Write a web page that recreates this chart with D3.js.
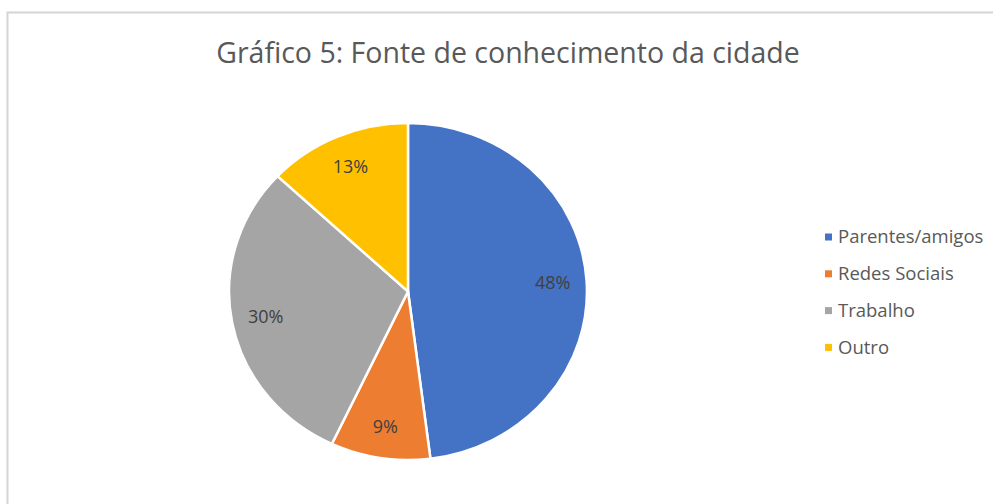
<!DOCTYPE html>
<html>
<head>
<meta charset="utf-8">
<script src="https://cdn.jsdelivr.net/npm/d3@7"></script>
<style>
  body { margin: 0; background: #fff; }
  svg { display: block; }
  text { font-family: "Open Sans", sans-serif; }
</style>
</head>
<body>
<script>
// chart data
var categories = ["Parentes/amigos", "Redes Sociais", "Trabalho", "Outro"];
var values = [48, 9, 30, 13];
var colors = ["#4472C4", "#ED7D31", "#A5A5A5", "#FFC000"];
var title = "Gráfico 5: Fonte de conhecimento da cidade";

var width = 993, height = 504;

var svg = d3.select("body").append("svg")
    .attr("width", width)
    .attr("height", height);

// chart frame
svg.append("rect")
    .attr("x", 7.5)
    .attr("y", 12.5)
    .attr("width", width + 20)
    .attr("height", height + 20)
    .attr("fill", "#fff")
    .attr("stroke", "#d4d4d4")
    .attr("stroke-width", 2);

svg.append("text")
    .attr("x", 508)
    .attr("y", 63)
    .attr("text-anchor", "middle")
    .style("font-size", "28.5px")
    .style("fill", "#595959")
    .text(title);

// pie (slightly wider than tall, like the source picture)
var cx = 408, cy = 291.5, r = 168.5, sx = 1.062;

var pie = d3.pie().sort(null).value(d => d);
var arcs = pie(values);

var arc = d3.arc().innerRadius(0).outerRadius(r);
var labelArc = d3.arc().innerRadius(r * 0.81).outerRadius(r * 0.81);

var g = svg.append("g")
    .attr("transform", "translate(" + cx + "," + cy + ") scale(" + sx + ",1)");

g.selectAll("path")
    .data(arcs)
    .enter()
    .append("path")
    .attr("d", arc)
    .attr("fill", (d, i) => colors[i])
    .attr("stroke", "#fff")
    .attr("stroke-width", 2.5)
    .attr("vector-effect", "non-scaling-stroke");

svg.selectAll(".lbl")
    .data(arcs)
    .enter()
    .append("text")
    .attr("class", "lbl")
    .attr("x", d => cx + labelArc.centroid(d)[0] * sx)
    .attr("y", d => cy + labelArc.centroid(d)[1])
    .attr("dy", "0.35em")
    .attr("text-anchor", "middle")
    .style("font-size", "18px")
    .style("fill", "#404040")
    .text(d => d.value + "%");

// legend
var legend = svg.append("g")
    .attr("transform", "translate(825,237)");

var item = legend.selectAll("g")
    .data(categories)
    .enter()
    .append("g")
    .attr("transform", (d, i) => "translate(0," + (i * 36.8) + ")");

item.append("rect")
    .attr("x", 0)
    .attr("y", -3.5)
    .attr("width", 7)
    .attr("height", 7)
    .attr("fill", (d, i) => colors[i]);

item.append("text")
    .attr("x", 13)
    .attr("y", 0)
    .attr("dy", "0.35em")
    .style("font-size", "18.5px")
    .style("fill", "#595959")
    .text(d => d);
</script>
</body>
</html>
